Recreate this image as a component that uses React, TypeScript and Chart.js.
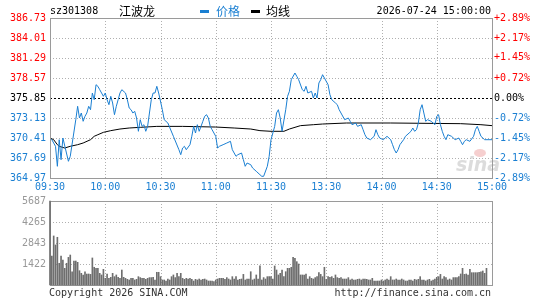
import React, { useEffect, useRef } from "react";
import { Chart, registerables } from "chart.js";
Chart.register(...registerables);

const stockCode = "sz301308";
const stockName = "江波龙";
const dateText = "2026-07-24 15:00:00";
const prevClose = 375.85;
const priceTicks = [364.97, 367.69, 370.41, 373.13, 375.85, 378.57, 381.29, 384.01, 386.73];
const pctTicks = [-2.89, -2.17, -1.45, -0.72, 0, 0.72, 1.45, 2.17, 2.89];
const timeTicks = [0, 30, 60, 90, 120, 150, 180, 210, 240];
const timeLabels = ["09:30", "10:00", "10:30", "11:00", "11:30", "13:30", "14:00", "14:30", "15:00"];
const volTicks = [1422, 2843, 4265, 5687];

const priceMinutes = [
  0, 1, 2, 3, 4, 5, 6, 7, 10, 11, 14, 15, 16, 17, 18, 19, 20, 21, 22, 23, 24, 25, 26, 27, 28, 29,
  30, 31, 32, 33, 34, 35, 36, 37, 38, 39, 41, 42, 43, 44, 45, 46, 47, 48, 49, 50, 51, 52, 53, 54,
  55, 56, 57, 58, 59, 61, 62, 64, 67, 70, 71, 72, 73, 74, 76, 77, 78, 79, 80, 81, 82, 83, 84, 85,
  86, 87, 88, 90, 91, 92, 94, 96, 98, 99, 101, 102, 104, 105, 106, 107, 109, 110, 112, 114, 115,
  116, 118, 119, 120, 122, 123, 124, 125, 126, 128, 129, 130, 131, 133, 134, 135, 137, 138, 139,
  140, 142, 143, 144, 145, 146, 147, 148, 149, 151, 152, 153, 155, 156, 157, 158, 160, 162, 163,
  164, 166, 167, 169, 170, 171, 172, 174, 176, 177, 178, 179, 181, 183, 185, 186, 187, 188, 189,
  190, 192, 193, 195, 196, 197, 198, 199, 200, 201, 202, 203, 204, 205, 207, 209, 210, 211, 212,
  213, 214, 215, 216, 218, 220, 222, 223, 224, 225, 226, 228, 230, 231, 232, 233, 234, 236, 240,
];
const priceValues = [
  370.41, 370.18, 369.73, 369.28, 366.56, 370.18, 367.46, 370.41, 367.24, 367.92, 372.9, 374.72,
  373.13, 373.81, 372.68, 373.36, 373.81, 374.72, 374.26, 376.53, 375.62, 377.66, 377.44, 376.98,
  376.53, 376.08, 376.53, 375.62, 374.94, 376.08, 375.17, 373.58, 374.72, 375.62, 376.53, 376.98,
  376.53, 375.62, 374.49, 374.26, 373.81, 374.04, 373.13, 371.32, 372.9, 371.99, 372.22, 371.32,
  371.99, 373.81, 375.62, 376.53, 376.53, 377.44, 376.53, 374.26, 372.9, 372.45, 370.64, 368.82,
  368.14, 369.05, 369.28, 368.82, 369.5, 370.64, 371.99, 371.09, 372.22, 371.32, 371.99, 372.68,
  373.36, 373.58, 373.13, 371.99, 371.54, 370.64, 369.05, 369.28, 369.5, 369.73, 369.96, 368.82,
  367.92, 368.14, 368.37, 367.46, 366.56, 367.01, 366.78, 366.33, 365.88, 365.42, 365.2, 365.2,
  366.56, 367.92, 370.18, 371.99, 373.81, 374.26, 373.13, 371.32, 374.26, 376.08, 376.76, 378.34,
  379.25, 378.8, 378.34, 376.98, 376.76, 377.44, 376.53, 376.76, 375.85, 376.53, 375.85, 377.89,
  378.34, 379.02, 378.57, 377.66, 376.3, 375.62, 375.17, 374.94, 374.26, 373.81, 372.9, 373.13,
  372.68, 372.22, 372.45, 371.99, 372.22, 371.54, 370.86, 370.41, 370.18, 370.64, 371.54, 370.86,
  370.41, 370.18, 370.64, 370.18, 369.5, 368.82, 368.37, 368.82, 369.5, 370.18, 370.64, 371.09,
  371.32, 371.77, 371.32, 371.54, 372.45, 374.26, 374.94, 373.81, 372.68, 372.9, 372.68, 372.22,
  373.36, 373.58, 372.22, 371.32, 370.64, 370.18, 370.86, 370.64, 370.18, 370.41, 369.96, 369.5,
  369.96, 370.18, 369.96, 370.64, 371.54, 371.99, 371.32, 370.64, 370.18, 370.18,
];

const avgMinutes = [
  0, 2, 4, 5, 8, 11, 15, 18, 22, 24, 26, 29, 33, 38, 43, 49, 58, 72, 90, 100, 109, 114, 120, 127,
  130, 136, 143, 148, 161, 185, 223, 234, 240,
];
const avgValues = [
  370.41, 370.18, 369.5, 369.28, 369.05, 369.28, 369.5, 369.73, 370.18, 370.64, 370.86, 371.18,
  371.41, 371.63, 371.77, 371.86, 371.99, 371.99, 371.9, 371.77, 371.63, 371.41, 371.32, 371.32,
  371.63, 372.09, 372.22, 372.31, 372.45, 372.45, 372.36, 372.22, 372.09,
];

const volumes = [
  5687, 1950, 3320, 2710, 3230, 1470, 1960, 1690, 1130, 1470,
  1870, 2030, 900, 1625, 1625, 1535, 970, 790, 680, 900,
  745, 745, 720, 1830, 1200, 1130, 1130, 790, 680, 1060,
  450, 745, 450, 520, 790, 565, 680, 520, 450, 1015,
  520, 450, 385, 340, 450, 450, 340, 385, 565, 500,
  450, 450, 385, 450, 500, 500, 520, 340, 860, 860,
  565, 340, 340, 270, 405, 340, 565, 680, 500, 790,
  565, 790, 450, 385, 450, 405, 450, 385, 270, 385,
  340, 405, 340, 385, 405, 340, 270, 270, 270, 225,
  340, 405, 450, 450, 450, 385, 500, 405, 340, 565,
  405, 565, 340, 385, 405, 720, 340, 405, 405, 900,
  340, 405, 680, 405, 1290, 340, 500, 405, 565, 565,
  565, 405, 1290, 1015, 680, 790, 1015, 565, 900, 1130,
  1130, 1200, 1870, 1805, 1580, 1422, 680, 680, 680, 745,
  405, 565, 450, 405, 500, 565, 835, 720, 565, 1200,
  385, 565, 520, 565, 450, 680, 500, 450, 500, 405,
  405, 405, 500, 340, 405, 340, 340, 385, 405, 340,
  405, 405, 385, 340, 340, 450, 270, 270, 270, 270,
  340, 270, 340, 405, 340, 565, 340, 340, 405, 340,
  340, 405, 340, 270, 270, 340, 340, 270, 385, 340,
  385, 565, 340, 340, 270, 340, 385, 270, 340, 405,
  520, 565, 720, 405, 565, 500, 340, 405, 340, 500,
  500, 500, 565, 745, 1130, 720, 745, 680, 1060, 835,
  835, 835, 835, 860, 900, 950, 790, 1130,
];

const MONO = "'DejaVu Sans Mono', monospace";
const CJK = "'Noto Sans CJK SC', sans-serif";
const RED = "#ff0000";
const BLUE = "#1a7fd2";
const GRID = "#b0b0b0";
const BOX = "#9a9a9a";

function hLine(ctx: CanvasRenderingContext2D, x1: number, x2: number, y: number) {
  ctx.beginPath();
  ctx.moveTo(x1, y);
  ctx.lineTo(x2, y);
  ctx.stroke();
}
function vLine(ctx: CanvasRenderingContext2D, x: number, y1: number, y2: number) {
  ctx.beginPath();
  ctx.moveTo(x, y1);
  ctx.lineTo(x, y2);
  ctx.stroke();
}
function box(ctx: CanvasRenderingContext2D, a: any) {
  ctx.save();
  ctx.strokeStyle = BOX;
  ctx.lineWidth = 1;
  ctx.setLineDash([]);
  ctx.strokeRect(Math.round(a.left) + 0.5, Math.round(a.top) + 0.5, Math.round(a.right - a.left), Math.round(a.bottom - a.top));
  ctx.restore();
}

const mainDecor = {
  id: "mainDecor",
  beforeDatasetsDraw(chart: any) {
    const { ctx, chartArea, scales } = chart;
    const { left, right, top, bottom } = chartArea;
    ctx.save();
    ctx.lineWidth = 1;
    ctx.strokeStyle = GRID;
    ctx.setLineDash([1, 2]);
    priceTicks.slice(1, -1).forEach((v) => {
      if (v === prevClose) return;
      const y = Math.round(scales.y.getPixelForValue(v)) + 0.5;
      hLine(ctx, left, right, y);
    });
    timeTicks.slice(1, -1).forEach((t) => {
      const x = Math.round(scales.x.getPixelForValue(t)) + 0.5;
      vLine(ctx, x, top, bottom);
    });
    ctx.strokeStyle = "#000";
    ctx.setLineDash([2, 2]);
    hLine(ctx, left, right, Math.round(scales.y.getPixelForValue(prevClose)) + 0.5);
    ctx.setLineDash([]);
    // watermark
    ctx.font = "italic bold 19px 'DejaVu Sans', sans-serif";
    ctx.fillStyle = "rgba(205,205,205,0.7)";
    ctx.textBaseline = "alphabetic";
    ctx.textAlign = "left";
    ctx.fillText("sina", 456, 171);
    ctx.fillStyle = "rgba(240,175,175,0.6)";
    ctx.beginPath();
    ctx.ellipse(480, 153, 6, 4, 0, 0, Math.PI * 2);
    ctx.fill();
    ctx.restore();
  },
  afterDatasetsDraw(chart: any) {
    const { ctx, chartArea } = chart;
    box(ctx, chartArea);
    ctx.save();
    ctx.textBaseline = "middle";
    ctx.textAlign = "left";
    ctx.fillStyle = "#000";
    ctx.font = `10px ${MONO}`;
    ctx.fillText(stockCode, 50, 11);
    ctx.font = `12px ${CJK}`;
    ctx.fillText(stockName, 119, 11);
    ctx.fillStyle = BLUE;
    ctx.fillRect(200, 10, 9, 3);
    ctx.fillText("价格", 216, 11);
    ctx.fillStyle = "#000";
    ctx.fillRect(251, 10, 9, 3);
    ctx.fillText("均线", 266, 11);
    ctx.font = `10px ${MONO}`;
    ctx.textAlign = "right";
    ctx.fillText(dateText, 491, 11);
    ctx.restore();
  },
};

const volDecor = {
  id: "volDecor",
  beforeDatasetsDraw(chart: any) {
    const { ctx, chartArea, scales } = chart;
    const { left, right, top, bottom } = chartArea;
    ctx.save();
    ctx.lineWidth = 1;
    ctx.strokeStyle = GRID;
    ctx.setLineDash([1, 2]);
    volTicks.slice(0, -1).forEach((v) => {
      const y = Math.round(scales.y.getPixelForValue(v)) + 0.5;
      hLine(ctx, left, right, y);
    });
    timeTicks.slice(1, -1).forEach((t) => {
      const x = Math.round(scales.x.getPixelForValue(t)) + 0.5;
      vLine(ctx, x, top, bottom);
    });
    ctx.restore();
    box(ctx, chartArea);
  },
  afterDatasetsDraw(chart: any) {
    const { ctx } = chart;
    ctx.save();
    ctx.fillStyle = "#333";
    ctx.font = `10px ${MONO}`;
    ctx.textBaseline = "middle";
    ctx.textAlign = "left";
    ctx.fillText("Copyright 2026 SINA.COM", 49, 293);
    ctx.textAlign = "right";
    ctx.fillText("http://finance.sina.com.cn", 491, 293);
    ctx.restore();
  },
};

function labelColor(v: number) {
  if (v > prevClose + 1e-6) return RED;
  if (v < prevClose - 1e-6) return BLUE;
  return "#000";
}

export default function App() {
  const mainRef = useRef<HTMLCanvasElement>(null);
  const volRef = useRef<HTMLCanvasElement>(null);

  useEffect(() => {
    document.body.style.margin = "0";
    Chart.defaults.font.family = MONO;
    Chart.defaults.font.size = 10;

    const main = new Chart(mainRef.current as HTMLCanvasElement, {
      type: "line",
      data: {
        datasets: [
          {
            label: "价格",
            data: priceMinutes.map((m, i) => ({ x: m, y: priceValues[i] })),
            borderColor: BLUE,
            borderWidth: 1,
            pointRadius: 0,
            tension: 0,
            yAxisID: "y",
          },
          {
            label: "均线",
            data: avgMinutes.map((m, i) => ({ x: m, y: avgValues[i] })),
            borderColor: "#000",
            borderWidth: 1,
            pointRadius: 0,
            tension: 0,
            yAxisID: "y",
          },
        ],
      },
      options: {
        animation: false,
        responsive: false,
        events: [],
        layout: { padding: { top: 18, left: 0, right: 0, bottom: 0 } },
        plugins: { legend: { display: false }, tooltip: { enabled: false } },
        scales: {
          x: {
            type: "linear",
            min: 0,
            max: 240,
            offset: false,
            position: "bottom",
            grid: { display: false, drawTicks: false },
            border: { display: false },
            afterBuildTicks: (s: any) => {
              s.ticks = timeTicks.map((v) => ({ value: v }));
            },
            afterFit: (s: any) => {
              s.height = 122;
            },
            ticks: {
              autoSkip: false,
              maxRotation: 0,
              padding: 3,
              color: BLUE,
              font: { family: MONO, size: 10 },
              callback: (v: any) => timeLabels[timeTicks.indexOf(Number(v))],
            },
          },
          y: {
            type: "linear",
            position: "left",
            min: priceTicks[0],
            max: priceTicks[priceTicks.length - 1],
            grid: { display: false, drawTicks: false },
            border: { display: false },
            afterBuildTicks: (s: any) => {
              s.ticks = priceTicks.map((v) => ({ value: v }));
            },
            afterFit: (s: any) => {
              s.width = 50;
            },
            ticks: {
              padding: 4,
              font: { family: MONO, size: 10 },
              color: (c: any) => labelColor(c.tick ? c.tick.value : prevClose),
              callback: (v: any) => Number(v).toFixed(2),
            },
          },
          yp: {
            type: "linear",
            position: "right",
            min: pctTicks[0],
            max: pctTicks[pctTicks.length - 1],
            grid: { display: false, drawTicks: false },
            border: { display: false },
            afterBuildTicks: (s: any) => {
              s.ticks = pctTicks.map((v) => ({ value: v }));
            },
            afterFit: (s: any) => {
              s.width = 53;
            },
            ticks: {
              padding: 2,
              font: { family: MONO, size: 10 },
              color: (c: any) => {
                const v = c.tick ? c.tick.value : 0;
                return v > 0 ? RED : v < 0 ? BLUE : "#000";
              },
              callback: (v: any) => {
                const n = Number(v);
                return (n > 0 ? "+" : "") + n.toFixed(2) + "%";
              },
            },
          },
        },
      } as any,
      plugins: [mainDecor],
    });

    const vol = new Chart(volRef.current as HTMLCanvasElement, {
      type: "bar",
      data: {
        datasets: [
          {
            label: "成交量",
            data: volumes.map((v, i) => ({ x: i, y: v })),
            backgroundColor: "#6e6e6e",
            borderWidth: 0,
            barThickness: 1,
            clip: false,
          },
        ],
      },
      options: {
        animation: false,
        responsive: false,
        events: [],
        layout: { padding: { top: 201, left: 0, right: 53, bottom: 15 } },
        plugins: { legend: { display: false }, tooltip: { enabled: false } },
        scales: {
          x: {
            type: "linear",
            min: 0,
            max: 240,
            offset: false,
            display: false,
          },
          y: {
            type: "linear",
            min: 0,
            max: volTicks[volTicks.length - 1],
            grid: { display: false, drawTicks: false },
            border: { display: false },
            afterBuildTicks: (s: any) => {
              s.ticks = volTicks.map((v) => ({ value: v }));
            },
            afterFit: (s: any) => {
              s.width = 50;
            },
            ticks: {
              padding: 4,
              color: "#999",
              font: { family: MONO, size: 10 },
              callback: (v: any) => String(v),
            },
          },
        },
      } as any,
      plugins: [volDecor],
    });

    return () => {
      main.destroy();
      vol.destroy();
    };
  }, []);

  return (
    <div style={{ position: "relative", width: 545, height: 300, background: "#fff" }}>
      <canvas ref={mainRef} width={545} height={300} style={{ position: "absolute", left: 0, top: 0 }} />
      <canvas ref={volRef} width={545} height={300} style={{ position: "absolute", left: 0, top: 0 }} />
    </div>
  );
}
